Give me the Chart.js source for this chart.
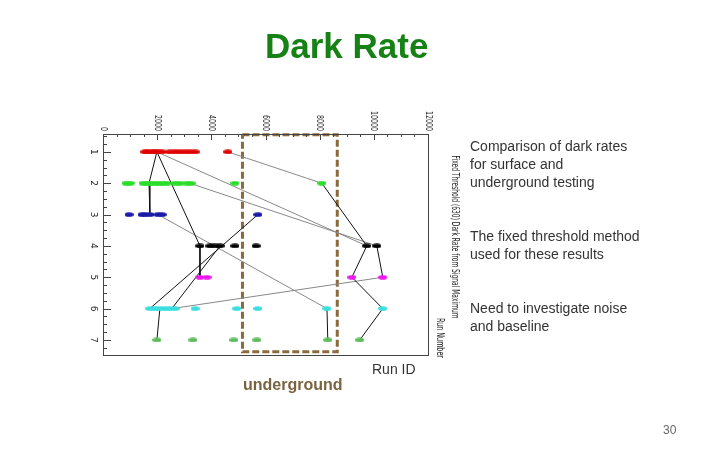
<!DOCTYPE html>
<html>
<head>
<meta charset="utf-8">
<script src="https://cdn.jsdelivr.net/npm/chart.js@4.4.1/dist/chart.umd.min.js"></script>
<style>
  body { margin: 0; background: #fff; }
  #wrap { position: relative; width: 720px; height: 450px; overflow: hidden; font-family: "Liberation Sans", Arial, sans-serif; }
  #chart { position: absolute; left: 0; top: 0; }
  .txt { position: absolute; white-space: nowrap; }
  .title { left: 265px; top: 28px; font-size: 35px; line-height: 35px; font-weight: bold; color: #168216; }
  .note { left: 470px; font-size: 14px; line-height: 18px; color: #333; }
  .under { left: 243px; top: 377px; font-size: 16px; line-height: 16px; font-weight: bold; color: #7a6440; }
  .runid { left: 372px; top: 362px; font-size: 14px; line-height: 14px; color: #333; }
  .page { left: 663px; top: 424px; font-size: 12px; line-height: 12px; color: #666; }
</style>
</head>
<body>
<div id="wrap">
  <canvas id="chart" width="720" height="450"></canvas>
  <div class="txt title">Dark Rate</div>
  <div class="txt note" style="top:137px">Comparison of dark rates<br>for surface and<br>underground testing</div>
  <div class="txt note" style="top:227px">The fixed threshold method<br>used for these results</div>
  <div class="txt note" style="top:299px">Need to investigate noise<br>and baseline</div>
  <div class="txt under">underground</div>
  <div class="txt runid">Run ID</div>
  <div class="txt page">30</div>
</div>
<script>
// dark rate per run (Hz)
const run1 = [1550, 1660, 1810, 1920, 2030, 2180, 2470, 2660, 2840, 3030, 3210, 3400, 4610];
const run2 = [850, 1000, 1480, 1620, 1770, 1920, 2070, 2210, 2360, 2660, 2840, 3100, 3250, 4870, 8080];
const run3 = [960, 1440, 1550, 1730, 2030, 2180, 5720];
const run4 = [3580, 3950, 4130, 4320, 4870, 5650, 9740, 10110];
const run5 = [3580, 3840, 9190, 10330];
const run6 = [1730, 1920, 2100, 2290, 2470, 2660, 3400, 4940, 5720, 8270, 10330];
const run7 = [1990, 3320, 4830, 5680, 8300, 9480];

const runColors = ['#e00000', '#2add2a', '#1a1aa8', '#000000', '#ee18ee', '#3adede', '#5cbc5c'];

// connecting lines: [rate, run] pairs
const blackLinks = [
  [[1990, 1], [1700, 2], [1730, 3]],
  [[1990, 1], [3580, 4], [3580, 5]],
  [[8080, 2], [9740, 4], [9190, 5], [10330, 6], [9480, 7]],
  [[10110, 4], [10330, 5]],
  [[1730, 6], [5720, 3]],
  [[2540, 6], [4320, 4]],
  [[2100, 6], [1990, 7]],
  [[8270, 6], [8300, 7]]
];
const grayLinks = [
  [[1990, 1], [9740, 4]],
  [[4610, 1], [8080, 2]],
  [[3200, 2], [10110, 4]],
  [[2030, 3], [8270, 6]],
  [[2540, 6], [10330, 5]]
];

// dashed "underground" box
const boxRate = [5150, 8650];
const boxRun = [0.45, 7.38];

const xTicks = [0, 2000, 4000, 6000, 8000, 10000, 12000];
const yTicks = [1, 2, 3, 4, 5, 6, 7];

function makeDot(color) {
  const c = document.createElement('canvas');
  c.width = 9; c.height = 5;
  const g = c.getContext('2d');
  g.fillStyle = color;
  g.beginPath();
  g.ellipse(4.5, 2.5, 4.5, 2.3, 0, 0, Math.PI * 2);
  g.fill();
  return c;
}

const runs = [run1, run2, run3, run4, run5, run6, run7];
const datasets = [];

runs.forEach((vals, i) => {
  datasets.push({
    type: 'scatter',
    data: vals.map(v => ({ x: v, y: i + 1 })),
    pointStyle: makeDot(runColors[i]),
    pointRadius: 4
  });
});

blackLinks.forEach(l => {
  datasets.push({
    type: 'line',
    data: l.map(p => ({ x: p[0], y: p[1] })),
    borderColor: '#111',
    borderWidth: 1,
    pointRadius: 0
  });
});
grayLinks.forEach(l => {
  datasets.push({
    type: 'line',
    data: l.map(p => ({ x: p[0], y: p[1] })),
    borderColor: '#888',
    borderWidth: 1,
    pointRadius: 0
  });
});

datasets.push({
  type: 'line',
  data: [
    { x: boxRate[0], y: boxRun[0] }, { x: boxRate[1], y: boxRun[0] },
    { x: boxRate[1], y: boxRun[1] }, { x: boxRate[0], y: boxRun[1] },
    { x: boxRate[0], y: boxRun[0] }
  ],
  borderColor: '#8b6a3e',
  borderWidth: 3,
  borderDash: [7, 3],
  pointRadius: 0,
  clip: false
});

// rotated axes, ticks pointing inward, like the original plot turned on its side
const axisPlugin = {
  id: 'sideAxes',
  afterDraw(chart) {
    const ctx = chart.ctx;
    const a = chart.chartArea;
    const xs = chart.scales.x, ys = chart.scales.y;
    ctx.save();
    ctx.strokeStyle = '#444';
    ctx.lineWidth = 1;
    ctx.strokeRect(a.left + 0.5, a.top + 0.5, a.right - a.left, a.bottom - a.top);
    ctx.beginPath();
    for (let v = 0; v <= 12000; v += 500) {
      const px = Math.round(xs.getPixelForValue(v)) + 0.5;
      const len = v % 2000 === 0 ? 6 : 3;
      ctx.moveTo(px, a.top);
      ctx.lineTo(px, a.top + len);
    }
    for (let r = 0.5; r <= 7.26; r += 0.25) {
      const py = Math.round(ys.getPixelForValue(r)) + 0.5;
      const len = Number.isInteger(r) ? 8 : 4;
      ctx.moveTo(a.left, py);
      ctx.lineTo(a.left + len, py);
    }
    ctx.stroke();

    ctx.fillStyle = '#222';
    ctx.font = '9px "DejaVu Sans"';
    ctx.textBaseline = 'middle';
    xTicks.forEach(v => {
      ctx.save();
      ctx.translate(xs.getPixelForValue(v), a.top - 3);
      ctx.rotate(Math.PI / 2);
      ctx.scale(0.7, 1);
      ctx.textAlign = 'right';
      ctx.fillText(String(v), 0, 0);
      ctx.restore();
    });
    yTicks.forEach(v => {
      ctx.save();
      ctx.translate(a.left - 10, ys.getPixelForValue(v));
      ctx.rotate(Math.PI / 2);
      ctx.textAlign = 'center';
      ctx.fillText(String(v), 0, 0);
      ctx.restore();
    });

    function sideText(str, cx, cy, len, size) {
      ctx.save();
      ctx.font = size + 'px "DejaVu Sans"';
      const w = ctx.measureText(str).width;
      ctx.translate(cx, cy);
      ctx.rotate(Math.PI / 2);
      ctx.scale(len / w, 1);
      ctx.textAlign = 'center';
      ctx.fillText(str, 0, 0);
      ctx.restore();
    }
    sideText('Fixed Threshold (630) Dark Rate from Signal Maximum', 455, 237, 163, 11);
    sideText('Run Number', 440, 338, 40, 10);
    ctx.restore();
  }
};

new Chart(document.getElementById('chart'), {
  type: 'scatter',
  data: { datasets },
  options: {
    responsive: false,
    animation: false,
    layout: { padding: { left: 103, top: 134, right: 292, bottom: 95 } },
    scales: {
      x: { type: 'linear', display: false, min: 0, max: 12000 },
      y: { type: 'linear', display: false, reverse: true, min: 0.43, max: 7.48 }
    },
    plugins: { legend: { display: false }, tooltip: { enabled: false } }
  },
  plugins: [axisPlugin]
});
</script>
</body>
</html>
